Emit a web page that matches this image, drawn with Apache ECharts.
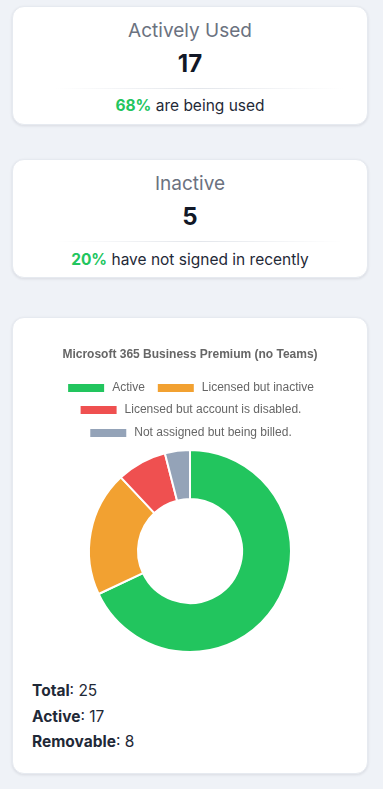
<!DOCTYPE html>
<html>
<head>
<meta charset="utf-8">
<script src="https://cdn.jsdelivr.net/npm/echarts@6/dist/echarts.min.js"></script>
<style>
  html, body { margin: 0; padding: 0; }
  body { width: 383px; height: 789px; background: #eff2f7; font-family: Inter, "Noto Sans", sans-serif; position: relative; overflow: hidden; }
  .card { position: absolute; left: 12px; width: 356px; background: #fff; border-radius: 12px; box-shadow: 0 1px 3px rgba(15,23,42,0.10); border: 1px solid #e6eaf0; box-sizing: border-box; }
  .stat-title { position: absolute; left: 0; right: 0; text-align: center; font-size: 19px; color: #6b7280; font-weight: 400; }
  .stat-num { position: absolute; left: 0; right: 0; text-align: center; font-size: 24px; color: #111827; font-weight: 700; }
  .sep { position: absolute; left: 42px; right: 24px; height: 1px; background: linear-gradient(90deg, rgba(229,231,235,0), #e3e6eb 50%, rgba(229,231,235,0)); }
  .stat-sub { position: absolute; left: 0; right: 0; text-align: center; font-size: 15.5px; color: #1f2937; }
  .stat-sub b { color: #22c55e; font-weight: 700; }
  #chart { position: absolute; left: 0; top: 0; width: 354px; height: 350px; }
  .totals { position: absolute; left: 19px; font-size: 15.5px; color: #1f2937; line-height: 25.5px; }
  .totals b { font-weight: 700; }
</style>
</head>
<body>
<div class="card" style="top:6px;height:119px;">
  <div class="stat-title" style="top:12px;">Actively Used</div>
  <div class="stat-num" style="top:42px;" id="activeNum"></div>
  <div class="sep" style="top:81px;"></div>
  <div class="stat-sub" style="top:89px;"><b id="activePct"></b> are being used</div>
</div>
<div class="card" style="top:159px;height:119px;">
  <div class="stat-title" style="top:12px;">Inactive</div>
  <div class="stat-num" style="top:42px;" id="inactiveNum"></div>
  <div class="sep" style="top:81px;"></div>
  <div class="stat-sub" style="top:90px;"><b id="inactivePct"></b> have not signed in recently</div>
</div>
<div class="card" style="top:317px;height:457px;">
  <div id="chart"></div>
  <div class="totals" style="top:360px;">
    <div><b>Total</b>: <span id="tTotal"></span></div>
    <div><b>Active</b>: <span id="tActive"></span></div>
    <div><b>Removable</b>: <span id="tRemovable"></span></div>
  </div>
</div>
<script>
const chartTitle = "Microsoft 365 Business Premium (no Teams)";
const categories = ["Active", "Licensed but inactive", "Licensed but account is disabled.", "Not assigned but being billed."];
const values = [17, 5, 2, 1];
const colors = ["#22c55e", "#f2a131", "#ef5050", "#94a3b8"];
const legendRows = [[0, 1], [2], [3]];

const total = values.reduce((a, b) => a + b, 0);
const active = values[0];
const removable = total - active;
document.getElementById('activeNum').textContent = active;
document.getElementById('activePct').textContent = Math.round(active / total * 100) + '%';
document.getElementById('inactiveNum').textContent = values[1];
document.getElementById('inactivePct').textContent = Math.round(values[1] / total * 100) + '%';
document.getElementById('tTotal').textContent = total;
document.getElementById('tActive').textContent = active;
document.getElementById('tRemovable').textContent = removable;

const chart = echarts.init(document.getElementById('chart'), null, { renderer: 'canvas' });
const legendTops = [59, 81, 104];
const option = {
  animation: false,
  color: colors,
  title: {
    text: chartTitle, left: 'center', top: 26,
    textStyle: { fontFamily: 'Liberation Sans, Arial, sans-serif', fontSize: 12, fontWeight: 'bold', color: '#666' }
  },
  legend: legendRows.map((row, i) => ({
    data: row.map(k => categories[k]),
    left: 'center', top: legendTops[i],
    icon: 'rect', itemWidth: 38, itemHeight: 10, itemGap: 11,
    textStyle: { fontFamily: 'Liberation Sans, Arial, sans-serif', fontSize: 12, color: '#666', padding: [0, 0, 0, 2] }
  })),
  series: [{
    type: 'pie',
    center: [177, 233],
    radius: [52, 101],
    startAngle: 90,
    clockwise: true,
    label: { show: false },
    labelLine: { show: false },
    itemStyle: { borderColor: '#fff', borderWidth: 2 },
    data: categories.map((c, i) => ({ name: c, value: values[i] }))
  }]
};
chart.setOption(option);
</script>
</body>
</html>
